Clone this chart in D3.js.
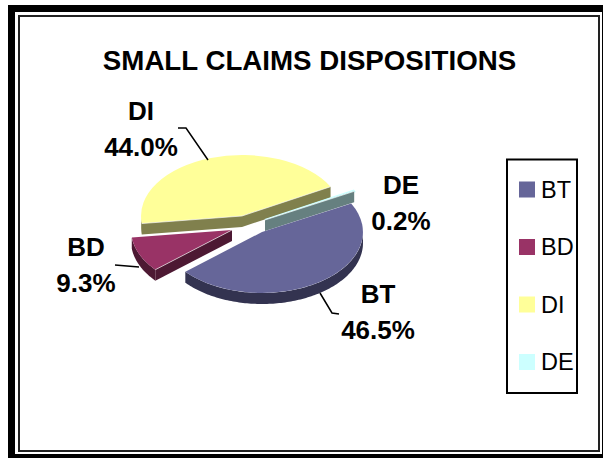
<!DOCTYPE html>
<html>
<head>
<meta charset="utf-8">
<script src="https://cdn.jsdelivr.net/npm/d3@7"></script>
<style>
  html, body { margin: 0; padding: 0; background: #fff; }
  svg { display: block; }
  text { font-family: "Liberation Sans", Arial, sans-serif; fill: #000; }
</style>
</head>
<body>
<div id="chart"></div>
<script>
const title = "SMALL CLAIMS DISPOSITIONS";
const categories = ["BT", "BD", "DI", "DE"];
const shares = [46.5, 9.3, 44.0, 0.2];
const topColors = ["#666699", "#993366", "#ffff99", "#ccffff"];
const wallColors = ["#333350", "#4d1933", "#80804d", "#668080"];

// where each exploded slice has its tip, and where its label goes
const tips = [[262, 232], [232, 230], [242, 216], [265, 220]];
const labelPos = [[378, 303], [86, 256], [141, 120], [401, 194]];
const leaders = [
    [[320, 293], [332, 313], [339, 314]],
    [[115, 265], [139, 267]],
    [[178, 128], [186, 128], [208, 160]],
    []
];

const width = 603, height = 458;
const rx = 101, ry = 61, depth = 11;

const svg = d3.select("#chart").append("svg")
    .attr("width", width)
    .attr("height", height);

// frame
svg.append("rect").attr("x", 0).attr("y", 0).attr("width", width).attr("height", height).attr("fill", "#fff");
svg.append("rect").attr("x", 11.5).attr("y", 8.5).attr("width", 594).attr("height", 449)
    .attr("fill", "none").attr("stroke", "#000").attr("stroke-width", 7);
svg.append("rect").attr("x", 19).attr("y", 16).attr("width", 580).attr("height", 435)
    .attr("fill", "#fff").attr("stroke", "#222").attr("stroke-width", 2);

svg.append("text")
    .attr("x", 309.5)
    .attr("y", 70)
    .attr("text-anchor", "middle")
    .attr("font-size", 27.7)
    .attr("font-weight", "bold")
    .text(title);

const pie = d3.pie()
    .sort(null)
    .startAngle(62 * Math.PI / 180)
    .endAngle((62 + 360) * Math.PI / 180);

const slices = pie(shares).map((s, i) => ({
    ...s,
    name: categories[i],
    i: i,
    cx: tips[i][0],
    cy: tips[i][1]
}));

const px = (d, a) => d.cx + rx * Math.sin(a);
const py = (d, a) => d.cy - ry * Math.cos(a);

const arc = d3.arc().innerRadius(0).outerRadius(1);

// back slices first so the front ones sit on top
const drawOrder = [2, 3, 1, 0];

drawOrder.forEach(k => {
    const d = slices[k];
    const g = svg.append("g");

    // round wall, front half only
    const from = Math.max(d.startAngle, Math.PI / 2);
    const to = Math.min(d.endAngle, 3 * Math.PI / 2);
    if (to > from) {
        const rim = d3.area()
            .x(a => px(d, a))
            .y0(a => py(d, a))
            .y1(a => py(d, a) + depth);
        g.append("path")
            .attr("d", rim(d3.range(from, to, 0.02).concat([to])))
            .attr("fill", wallColors[k]);
    }

    // top of the slice
    g.append("path")
        .attr("d", arc(d))
        .attr("transform", `translate(${d.cx},${d.cy}) scale(${rx},${ry})`)
        .attr("fill", topColors[k])
        .attr("stroke", topColors[k])
        .attr("stroke-width", k === 3 ? 2 : 0)
        .attr("vector-effect", "non-scaling-stroke");

    // flat side walls, only those turned to the viewer, with a thin light top edge
    [[d.startAngle, -1], [d.endAngle, 1]].forEach(([a, side]) => {
        if (Math.cos(a + side * Math.PI / 2) < 0) {
            const x1 = px(d, a), y1 = py(d, a);
            g.append("polygon")
                .attr("points", [[d.cx, d.cy], [x1, y1], [x1, y1 + depth], [d.cx, d.cy + depth]].join(" "))
                .attr("fill", wallColors[k]);
            g.append("line")
                .attr("x1", d.cx).attr("y1", d.cy)
                .attr("x2", x1).attr("y2", y1)
                .attr("stroke", "#fff")
                .attr("stroke-opacity", 0.6)
                .attr("stroke-width", 1);
        }
    });
});

// leader lines
const leaderLine = d3.line();
leaders.filter(l => l.length).forEach(l => {
    svg.append("path")
        .attr("d", leaderLine(l))
        .attr("fill", "none")
        .attr("stroke", "#000")
        .attr("stroke-width", 1.5);
});

// slice labels
slices.forEach((d, i) => {
    const t = svg.append("text")
        .attr("text-anchor", "middle")
        .attr("font-size", 26)
        .attr("font-weight", "bold");
    t.append("tspan").attr("x", labelPos[i][0]).attr("y", labelPos[i][1]).text(d.name);
    t.append("tspan").attr("x", labelPos[i][0]).attr("y", labelPos[i][1] + 36).text(shares[i].toFixed(1) + "%");
});

// legend
svg.append("rect").attr("x", 507).attr("y", 159.5).attr("width", 70).attr("height", 233.5)
    .attr("fill", "#fff").attr("stroke", "#000").attr("stroke-width", 2);

const legendY = d3.scalePoint().domain(categories).range([189.5, 362]);
categories.forEach((c, i) => {
    svg.append("rect")
        .attr("x", 519)
        .attr("y", legendY(c) - 8)
        .attr("width", 16)
        .attr("height", 16)
        .attr("fill", topColors[i]);
    svg.append("text")
        .attr("x", 541)
        .attr("y", legendY(c) + 8)
        .attr("font-size", 23.5)
        .text(c);
});
</script>
</body>
</html>
